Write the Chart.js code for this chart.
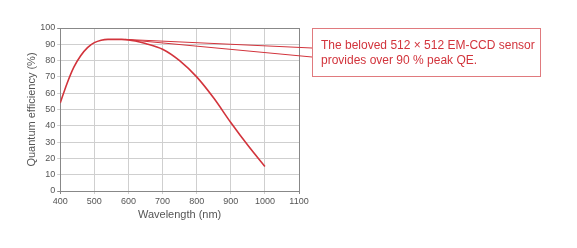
<!DOCTYPE html>
<html>
<head>
<meta charset="utf-8">
<script src="https://cdn.jsdelivr.net/npm/chart.js@4/dist/chart.umd.min.js"></script>
<style>
  html, body { margin: 0; padding: 0; background: #fff; }
  #wrap { width: 577px; height: 248px; }
</style>
</head>
<body>
<div id="wrap"><canvas id="qeChart"></canvas></div>
<script>
(() => {
  'use strict'

  // wavelength (nm) and quantum efficiency (%)
  const wavelengths = [400, 420, 440, 460, 480, 500, 520, 540, 560, 580, 600, 620, 650, 700, 750, 800, 850, 900, 950, 1000]
  const efficiency = [54, 66, 76, 83, 88, 91, 92.5, 93, 93, 93, 92.7, 92, 90.5, 87, 80, 70, 57, 42, 28, 15]

  const calloutLines = ['The beloved 512 \u00d7 512 EM-CCD sensor', 'provides over 90 % peak QE.']
  const calloutAnchor = { x: 590, y: 93 }

  const red = '#d2343c'
  const font = '"Liberation Sans", Arial, sans-serif'

  const callout = {
    id: 'callout',
    afterDraw (chart) {
      const { ctx, chartArea, scales } = chart
      const boxX = chartArea.right + 13
      const boxY = 28
      const boxW = 228
      const boxH = 48
      const ax = scales.x.getPixelForValue(calloutAnchor.x)
      const ay = scales.y.getPixelForValue(calloutAnchor.y)
      ctx.save()
      ctx.strokeStyle = red
      ctx.lineWidth = 1
      ctx.beginPath()
      ctx.moveTo(ax, ay)
      ctx.lineTo(boxX, boxY + 20)
      ctx.moveTo(ax, ay)
      ctx.lineTo(boxX, boxY + 29)
      ctx.stroke()
      ctx.strokeStyle = '#e07a7e'
      ctx.strokeRect(boxX + 0.5, boxY + 0.5, boxW, boxH)
      ctx.fillStyle = red
      ctx.font = '12px ' + font
      ctx.textBaseline = 'alphabetic'
      calloutLines.forEach((line, i) => {
        ctx.fillText(line, boxX + 9, boxY + 21 + i * 15)
      })
      ctx.restore()
    }
  }

  const ctx = document.getElementById('qeChart')
  // eslint-disable-next-line no-unused-vars
  const qeChart = new Chart(ctx, {
    type: 'line',
    data: {
      datasets: [{
        data: wavelengths.map((w, i) => ({ x: w, y: efficiency[i] })),
        borderColor: red,
        borderWidth: 1.6,
        pointRadius: 0,
        cubicInterpolationMode: 'monotone',
        fill: false
      }]
    },
    options: {
      responsive: true,
      maintainAspectRatio: false,
      animation: false,
      layout: { padding: { top: 28, right: 278, bottom: 22, left: 21 } },
      plugins: {
        legend: { display: false },
        tooltip: { enabled: false }
      },
      scales: {
        x: {
          type: 'linear',
          min: 400,
          max: 1100,
          ticks: { stepSize: 100, color: '#555', font: { family: font, size: 9 }, padding: 2, callback: v => String(v) },
          grid: {
            color: c => (c.tick.value === 400 || c.tick.value === 1100) ? '#888' : '#cfcfcf',
            tickLength: 3
          },
          border: { color: '#888' },
          title: { display: true, text: 'Wavelength (nm)', color: '#555', font: { family: font, size: 11 }, padding: { top: 0 } }
        },
        y: {
          min: 0,
          max: 100,
          ticks: { stepSize: 10, color: '#555', font: { family: font, size: 9 }, padding: 2 },
          grid: {
            color: c => (c.tick.value === 100 || c.tick.value === 0) ? '#888' : '#cfcfcf',
            tickLength: 3
          },
          border: { color: '#888' },
          title: { display: true, text: 'Quantum efficiency (%)', color: '#555', font: { family: font, size: 11 }, padding: { bottom: 0 } }
        }
      }
    },
    plugins: [callout]
  })
})()
</script>
</body>
</html>
